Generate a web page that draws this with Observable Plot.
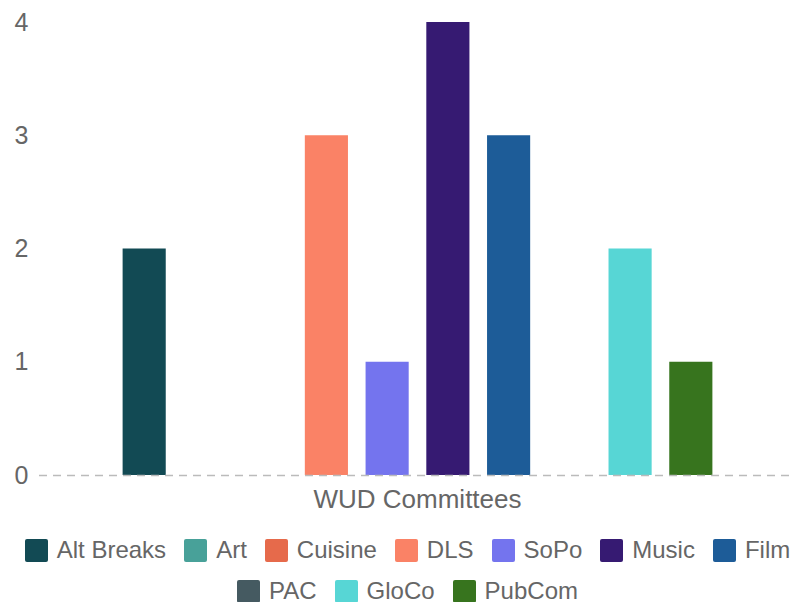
<!DOCTYPE html>
<html>
<head>
<meta charset="utf-8">
<script src="https://cdn.jsdelivr.net/npm/d3@7"></script>
<script src="https://cdn.jsdelivr.net/npm/@observablehq/plot@0.6"></script>
<style>
  body { margin: 0; background: #fff; font-family: "Liberation Sans", Arial, Helvetica, sans-serif; }
  #chart { width: 795px; }
  #legend {
    position: relative; left: 10px;
    width: 795px; display: flex; flex-wrap: wrap; justify-content: center;
    row-gap: 17px; margin-top: 18px; color: #666; font-size: 24px; line-height: 24px;
  }
  .item { display: flex; align-items: center; margin: 0 9px; white-space: nowrap; }
  .sw { width: 23px; height: 23px; border-radius: 2px; margin-right: 9px; }
</style>
</head>
<body>
<div id="chart"></div>
<div id="legend"></div>
<script>
// Members per WUD committee
const committees = ["Alt Breaks", "Art", "Cuisine", "DLS", "SoPo", "Music", "Film", "PAC", "GloCo", "PubCom"];
const members = [2, 0, 0, 3, 1, 4, 3, 0, 2, 1];
const palette = ["#124a54", "#48a199", "#e66a4b", "#fa8266", "#7474ee", "#361a72", "#1d5c98", "#455a61", "#57d6d5", "#37741e"];
const groupLabel = "WUD Committees";
const yTicks = [0, 1, 2, 3, 4];

const rows = committees.map((name, i) => ({name, value: members[i]}));

const chart = Plot.plot({
  width: 795,
  height: 520,
  marginLeft: 39,
  marginRight: 0,
  marginTop: 22,
  marginBottom: 45,
  style: {fontFamily: "'Liberation Sans', Arial, Helvetica, sans-serif", fontSize: "25px", color: "#666", background: "#fff"},
  x: {domain: committees, padding: 0.29, round: false, insetLeft: 66, insetRight: 65, axis: null},
  y: {domain: [0, 4], ticks: yTicks, tickSize: 0, tickPadding: 11, label: null, tickFormat: d3.format("d")},
  color: {domain: committees, range: palette},
  marks: [
    Plot.barY(rows, {x: "name", y: "value", fill: "name"}),
    Plot.ruleY([0], {stroke: "#bbb", strokeWidth: 1.5, strokeDasharray: "8,6"}),
    Plot.text([groupLabel], {frameAnchor: "bottom", dy: 32, fontSize: 26, fill: "#666"})
  ]
});
document.getElementById("chart").appendChild(chart);

// Legend below the chart
const legend = document.getElementById("legend");
committees.forEach((name, i) => {
  const item = document.createElement("div");
  item.className = "item";
  const sw = document.createElement("span");
  sw.className = "sw";
  sw.style.background = palette[i];
  const label = document.createElement("span");
  label.textContent = name;
  item.appendChild(sw);
  item.appendChild(label);
  legend.appendChild(item);
});
</script>
</body>
</html>
